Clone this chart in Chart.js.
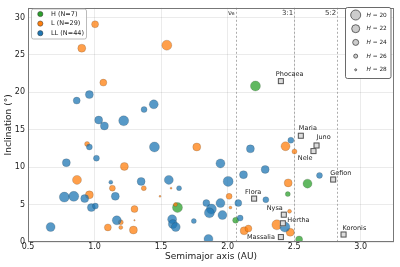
<!DOCTYPE html>
<html>
<head>
<meta charset="utf-8">
<script src="https://cdn.jsdelivr.net/npm/chart.js@4.4.1/dist/chart.umd.min.js"></script>
<style>
html,body{margin:0;padding:0;background:#fff;}
#wrap{width:400px;height:267px;}
</style>
</head>
<body>
<div id="wrap"><canvas id="c" width="400" height="267"></canvas></div>
<script>
// group H (Hungaria-like, high)
const hA = [2.209, 1.623, 2.60, 2.452, 2.06, 2.537];
const hI = [20.85, 4.6, 7.8, 6.4, 2.9, 0.35];
const hMag = [20, 20, 21, 25, 24, 23];

// group L
const lA = [1.004, 0.904, 1.543, 1.066, 0.944, 1.768, 1.224, 0.868, 1.134, 1.37,
            1.575, 0.961, 1.492, 1.30, 1.608, 1.197, 1.10, 1.197, 1.292, 2.011,
            2.021, 2.124, 2.156, 2.435, 2.502, 2.455, 2.465, 2.37, 2.47, 1.30];
const lI = [29.1, 25.9, 26.3, 21.3, 13.1, 12.7, 10.1, 8.3, 7.2, 7.2,
            7.2, 6.3, 6.1, 4.4, 5.0, 2.65, 1.95, 1.95, 1.6, 6.1,
            4.6, 1.5, 1.8, 12.8, 12.1, 7.9, 4.1, 2.3, 1.3, 2.9];
const lMag = [23, 22, 20, 23, 25, 22, 22, 21, 24, 25,
              28, 22, 28, 23, 26, 25, 23, 26, 22, 24,
              27, 22, 23, 21, 25, 22, 26, 20, 22, 28.5];

// group LL
const llA = [0.866, 0.961, 1.031, 1.074, 1.219, 1.372, 1.445, 0.961, 1.45, 1.014,
             0.788, 1.122, 1.35, 1.558, 1.635, 0.773, 0.844, 0.926, 1.156, 0.976,
             1.006, 1.583, 1.746, 1.167, 0.67, 1.588, 1.61, 1.946, 2.119, 2.282,
             2.004, 2.08, 2.287, 1.84, 1.946, 1.878, 1.863, 1.961, 2.094, 1.856,
             2.475, 2.171, 2.69, 2.43];
const llI = [18.9, 19.7, 16.3, 15.5, 16.2, 17.7, 18.4, 12.7, 12.7, 11.2,
             10.6, 8.0, 8.1, 8.3, 7.2, 6.0, 6.1, 5.8, 6.1, 4.6,
             4.8, 3.05, 2.8, 2.9, 2.0, 2.4, 2.0, 10.5, 9.0, 9.7,
             8.1, 5.2, 5.65, 5.2, 5.2, 4.4, 3.9, 3.6, 3.2, 0.4,
             13.6, 12.45, 8.9, 2.0];
const llMag = [23, 22, 22, 22, 20, 24, 21, 24, 20, 24,
               22, 26, 22, 21, 25, 20, 20, 22, 22, 22,
               24, 21, 25, 21, 21, 21, 21, 21, 22, 22,
               20, 23, 24, 23, 21, 20, 20, 21, 24, 21,
               24, 22, 24, 20];

// named asteroids
const namedNames = ["Phocaea", "Maria", "Juno", "Nele", "Gefion", "Flora", "Nysa", "Hertha", "Massalia", "Koronis"];
const namedA = [2.40, 2.55, 2.668, 2.645, 2.793, 2.199, 2.422, 2.415, 2.40, 2.871];
const namedI = [21.5, 14.2, 12.9, 12.15, 8.35, 5.8, 3.65, 2.5, 0.66, 1.0];

// resonances
const resNames = ["ν₆", "3:1", "5:2"];
const resA = [2.06, 2.50, 2.823];

const xTicks = [0.5, 1.0, 1.5, 2.0, 2.5, 3.0];
const yTicks = [0, 5, 10, 15, 20, 25, 30];

const legendMags = [20, 22, 24, 26, 28];

function magToR(h){ return Math.max(0.6, 5 - (h - 20) * 0.5); }

function pts(a, inc, mag){
    return a.map((v, k) => ({x: v, y: inc[k], r: magToR(mag[k])}));
}

// label offsets [dx, dy, align] relative to the square
const labelPos = {
    Phocaea: [-5, -7, "left"], Maria: [-2, -7, "left"], Juno: [0, -8, "left"],
    Nele: [-1, 7, "right"], Gefion: [-3, -6.5, "left"], Flora: [-9, -6.5, "left"],
    Nysa: [-1, -6.5, "right"], Hertha: [4.5, -3, "left"], Massalia: [-6, 0.5, "right"],
    Koronis: [-1, -6.5, "left"]
};

const FONT = "'DejaVu Sans', sans-serif";

const extras = {
    id: "extras",
    beforeDatasetsDraw(chart){
        const ctx = chart.ctx, xs = chart.scales.x, ys = chart.scales.y, ca = chart.chartArea;
        ctx.save();
        ctx.strokeStyle = "#999";
        ctx.lineWidth = 0.8;
        ctx.setLineDash([2, 2]);
        resA.forEach(a => {
            const px = Math.round(xs.getPixelForValue(a)) + 0.5;
            ctx.beginPath();
            ctx.moveTo(px, ca.top);
            ctx.lineTo(px, ca.bottom);
            ctx.stroke();
        });
        ctx.setLineDash([]);
        ctx.fillStyle = "#333";
        ctx.font = "7px " + FONT;
        ctx.textAlign = "right";
        ctx.textBaseline = "middle";
        resA.forEach((a, k) => {
            ctx.fillText(resNames[k], xs.getPixelForValue(a) - 1, 13);
        });
        ctx.restore();
    },
    afterDatasetsDraw(chart){
        const ctx = chart.ctx, xs = chart.scales.x, ys = chart.scales.y, ca = chart.chartArea;
        ctx.save();
        // named asteroid squares + labels
        namedNames.forEach((n, k) => {
            const px = xs.getPixelForValue(namedA[k]), py = ys.getPixelForValue(namedI[k]);
            ctx.fillStyle = "#ddd";
            ctx.strokeStyle = "#555";
            ctx.lineWidth = 1;
            ctx.fillRect(px - 3, py - 3, 6, 6);
            ctx.strokeRect(px - 2.5, py - 2.5, 5, 5);
            const lp = labelPos[n];
            ctx.fillStyle = "#222";
            ctx.font = "6.5px " + FONT;
            ctx.textAlign = lp[2];
            ctx.textBaseline = "middle";
            ctx.fillText(n, px + lp[0], py + lp[1]);
        });

        // frame
        ctx.strokeStyle = "#777";
        ctx.lineWidth = 1;
        ctx.strokeRect(Math.round(ca.left) + 0.5, Math.round(ca.top) + 0.5,
                       Math.round(ca.width) - 1, Math.round(ca.height) - 1);

        // group legend
        ctx.fillStyle = "rgba(255,255,255,0.85)";
        ctx.strokeStyle = "#aaa";
        ctx.lineWidth = 0.8;
        roundRect(ctx, 31.5, 9, 55, 30, 2);
        ctx.fill(); ctx.stroke();
        const groups = [["H (N=7)", "#2ca02c"], ["L (N=29)", "#ff7f0e"], ["LL (N=44)", "#1f77b4"]];
        groups.forEach((g, k) => {
            const y = 14 + k * 9.6;
            ctx.beginPath();
            ctx.arc(40.3, y, 2.6, 0, Math.PI * 2);
            ctx.fillStyle = g[1];
            ctx.fill();
            ctx.strokeStyle = "#333";
            ctx.lineWidth = 0.5;
            ctx.stroke();
            ctx.fillStyle = "#222";
            ctx.font = "6.5px " + FONT;
            ctx.textAlign = "left";
            ctx.textBaseline = "middle";
            ctx.fillText(g[0], 51, y);
        });

        // size legend
        ctx.fillStyle = "#fff";
        ctx.strokeStyle = "#444";
        ctx.lineWidth = 0.8;
        roundRect(ctx, 345.5, 7.5, 45.5, 71, 2);
        ctx.fill(); ctx.stroke();
        legendMags.forEach((h, k) => {
            const y = 15 + k * 13.7;
            ctx.beginPath();
            ctx.arc(355.7, y, magToR(h), 0, Math.PI * 2);
            ctx.fillStyle = "#ccc";
            ctx.fill();
            ctx.strokeStyle = "#444";
            ctx.lineWidth = 0.8;
            ctx.stroke();
            ctx.fillStyle = "#222";
            ctx.textAlign = "left";
            ctx.textBaseline = "middle";
            ctx.font = "italic 5.8px " + FONT;
            ctx.fillText("H", 366.5, y);
            const w = ctx.measureText("H").width;
            ctx.font = "5.8px " + FONT;
            ctx.fillText(" = " + h, 366.5 + w, y);
        });
        ctx.restore();
    }
};

function roundRect(ctx, x, y, w, h, r){
    ctx.beginPath();
    ctx.moveTo(x + r, y);
    ctx.lineTo(x + w - r, y);
    ctx.quadraticCurveTo(x + w, y, x + w, y + r);
    ctx.lineTo(x + w, y + h - r);
    ctx.quadraticCurveTo(x + w, y + h, x + w - r, y + h);
    ctx.lineTo(x + r, y + h);
    ctx.quadraticCurveTo(x, y + h, x, y + h - r);
    ctx.lineTo(x, y + r);
    ctx.quadraticCurveTo(x, y, x + r, y);
    ctx.closePath();
}

new Chart(document.getElementById("c"), {
    type: "bubble",
    data: {
        datasets: [
            {label: "H", data: pts(hA, hI, hMag), order: 3,
             backgroundColor: "rgba(44,160,44,0.75)", borderColor: "rgba(40,40,40,0.35)", borderWidth: 0.5},
            {label: "L", data: pts(lA, lI, lMag), order: 2,
             backgroundColor: "rgba(255,127,14,0.75)", borderColor: "rgba(40,40,40,0.35)", borderWidth: 0.5},
            {label: "LL", data: pts(llA, llI, llMag), order: 1,
             backgroundColor: "rgba(31,119,180,0.75)", borderColor: "rgba(40,40,40,0.35)", borderWidth: 0.5}
        ]
    },
    options: {
        responsive: false,
        devicePixelRatio: 1,
        animation: false,
        layout: {padding: {top: 5, right: 6, left: 0, bottom: 0}},
        plugins: {legend: {display: false}, tooltip: {enabled: false}},
        scales: {
            x: {
                type: "linear", min: 0.5, max: 3.25,
                afterBuildTicks: s => { s.ticks = xTicks.map(v => ({value: v})); },
                afterFit: s => { s.height = 25; },
                grid: {color: "rgba(0,0,0,0.08)", drawTicks: false},
                border: {display: false},
                ticks: {font: {family: FONT, size: 8}, color: "#222", padding: 0,
                        callback: v => v.toFixed(1), maxRotation: 0},
                title: {display: true, text: "Semimajor axis (AU)", color: "#222",
                        font: {family: FONT, size: 9}, padding: {top: 0, bottom: 4.9}}
            },
            y: {
                type: "linear", min: 0, max: 31.3,
                afterBuildTicks: s => { s.ticks = yTicks.map(v => ({value: v})); },
                afterFit: s => { s.width = 28; },
                grid: {color: "rgba(0,0,0,0.08)", drawTicks: false},
                border: {display: false},
                ticks: {font: {family: FONT, size: 8}, color: "#222", padding: 3},
                title: {display: true, text: "Inclination (°)", color: "#222",
                        font: {family: FONT, size: 9}, padding: {top: 3.6, bottom: 0}}
            }
        }
    },
    plugins: [extras]
});
</script>
</body>
</html>
